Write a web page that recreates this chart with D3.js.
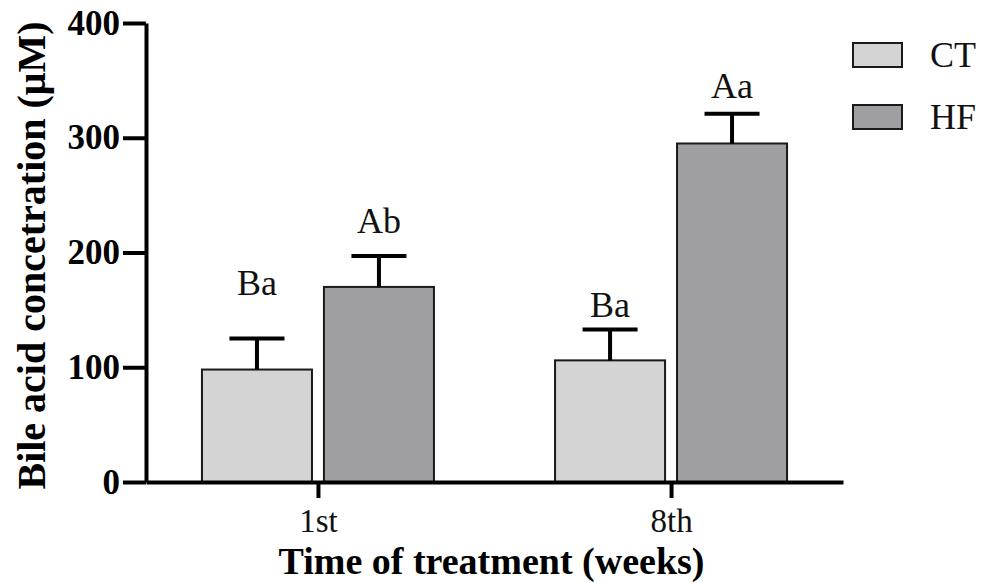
<!DOCTYPE html>
<html>
<head>
<meta charset="utf-8">
<script src="https://cdn.jsdelivr.net/npm/d3@7"></script>
<style>
  html, body { margin: 0; padding: 0; background: #fff; }
  svg { display: block; font-family: "Times New Roman", "Liberation Serif", serif; }
</style>
</head>
<body>
<svg id="chart" width="989" height="583"></svg>
<script>
// data
const weeks = ['1st', '8th'];
const groups = ['CT', 'HF'];
const ctMean = [98, 106];
const hfMean = [170, 295];
const ctErr = [27, 27];
const hfErr = [27, 26];
const ctLetters = ['Ba', 'Ba'];
const hfLetters = ['Ab', 'Aa'];
// height (in µM) where each letter label sits
const ctLetterAt = [163, 144];
const hfLetterAt = [217, 335];
const yTicks = [0, 100, 200, 300, 400];
const colors = { CT: '#d4d4d4', HF: '#9f9ea3' };

const rows = [];
weeks.forEach((w, i) => {
  rows.push({ week: w, group: 'CT', mean: ctMean[i], err: ctErr[i], letter: ctLetters[i], at: ctLetterAt[i] });
  rows.push({ week: w, group: 'HF', mean: hfMean[i], err: hfErr[i], letter: hfLetters[i], at: hfLetterAt[i] });
});

const svg = d3.select('#chart');
const plotLeft = 146, plotRight = 843, plotTop = 23, plotBottom = 482;

const x0 = d3.scalePoint().domain(weeks).range([plotLeft, plotRight]).padding(0.487);
const x1 = d3.scaleBand().domain(groups).range([-116, 116]).paddingInner(0.098);
const y = d3.scaleLinear().domain([0, 400]).range([plotBottom, plotTop]);

const barX = d => x0(d.week) + x1(d.group);
const barMid = d => barX(d) + x1.bandwidth() / 2;

// bars
svg.append('g').selectAll('rect')
  .data(rows)
  .enter()
  .append('rect')
  .attr('x', barX)
  .attr('y', d => y(d.mean))
  .attr('width', x1.bandwidth())
  .attr('height', d => y(0) - y(d.mean))
  .attr('fill', d => colors[d.group])
  .attr('stroke', '#1a1a1a')
  .attr('stroke-width', 2);

// error bars (upper only)
const err = svg.append('g').attr('stroke', '#000').attr('stroke-width', 4);
err.selectAll('line.v')
  .data(rows)
  .enter()
  .append('line')
  .attr('class', 'v')
  .attr('x1', barMid).attr('x2', barMid)
  .attr('y1', d => y(d.mean)).attr('y2', d => y(d.mean + d.err));
err.selectAll('line.cap')
  .data(rows)
  .enter()
  .append('line')
  .attr('class', 'cap')
  .attr('x1', d => barMid(d) - x1.bandwidth() / 4)
  .attr('x2', d => barMid(d) + x1.bandwidth() / 4)
  .attr('y1', d => y(d.mean + d.err)).attr('y2', d => y(d.mean + d.err));

// significance letters
svg.append('g').selectAll('text')
  .data(rows)
  .enter()
  .append('text')
  .attr('x', barMid)
  .attr('y', d => y(d.at))
  .attr('text-anchor', 'middle')
  .attr('font-size', 36)
  .attr('fill', '#111')
  .text(d => d.letter);

// y axis
const yAxis = svg.append('g')
  .attr('transform', `translate(${plotLeft},0)`)
  .call(d3.axisLeft(y).tickValues(yTicks).tickSize(23).tickSizeOuter(0).tickPadding(3));
yAxis.select('.domain').attr('stroke', '#000').attr('stroke-width', 4);
yAxis.selectAll('.tick line').attr('stroke', '#000').attr('stroke-width', 4);
yAxis.selectAll('.tick text')
  .attr('font-family', '"Times New Roman", "Liberation Serif", serif')
  .attr('font-size', 35).attr('font-weight', 'bold').attr('fill', '#000');

// x axis
const xAxis = svg.append('g')
  .attr('transform', `translate(0,${plotBottom})`)
  .call(d3.axisBottom(x0).tickSize(16).tickSizeOuter(0).tickPadding(11));
xAxis.select('.domain').attr('stroke', '#000').attr('stroke-width', 4);
xAxis.selectAll('.tick line').attr('stroke', '#000').attr('stroke-width', 4);
xAxis.selectAll('.tick text')
  .attr('font-family', '"Times New Roman", "Liberation Serif", serif')
  .attr('font-size', 33).attr('fill', '#111');

// axis titles
svg.append('text')
  .attr('x', (plotLeft + plotRight) / 2 - 3)
  .attr('y', 574)
  .attr('text-anchor', 'middle')
  .attr('font-size', 38)
  .attr('font-weight', 'bold')
  .text('Time of treatment (weeks)');

svg.append('text')
  .attr('transform', `translate(45,${(plotTop + plotBottom) / 2 + 3}) rotate(-90)`)
  .attr('text-anchor', 'middle')
  .attr('font-size', 40)
  .attr('font-weight', 'bold')
  .text('Bile acid concetration (μM)');

// legend
const legend = svg.append('g').attr('transform', 'translate(853,43)');
const item = legend.selectAll('g')
  .data(groups)
  .enter()
  .append('g')
  .attr('transform', (d, i) => `translate(0,${i * 62})`);
item.append('rect')
  .attr('width', 49).attr('height', 24)
  .attr('fill', d => colors[d])
  .attr('stroke', '#1a1a1a').attr('stroke-width', 2);
item.append('text')
  .attr('x', 77).attr('y', 24)
  .attr('font-size', 36)
  .attr('fill', '#111')
  .text(d => d);
</script>
</body>
</html>
